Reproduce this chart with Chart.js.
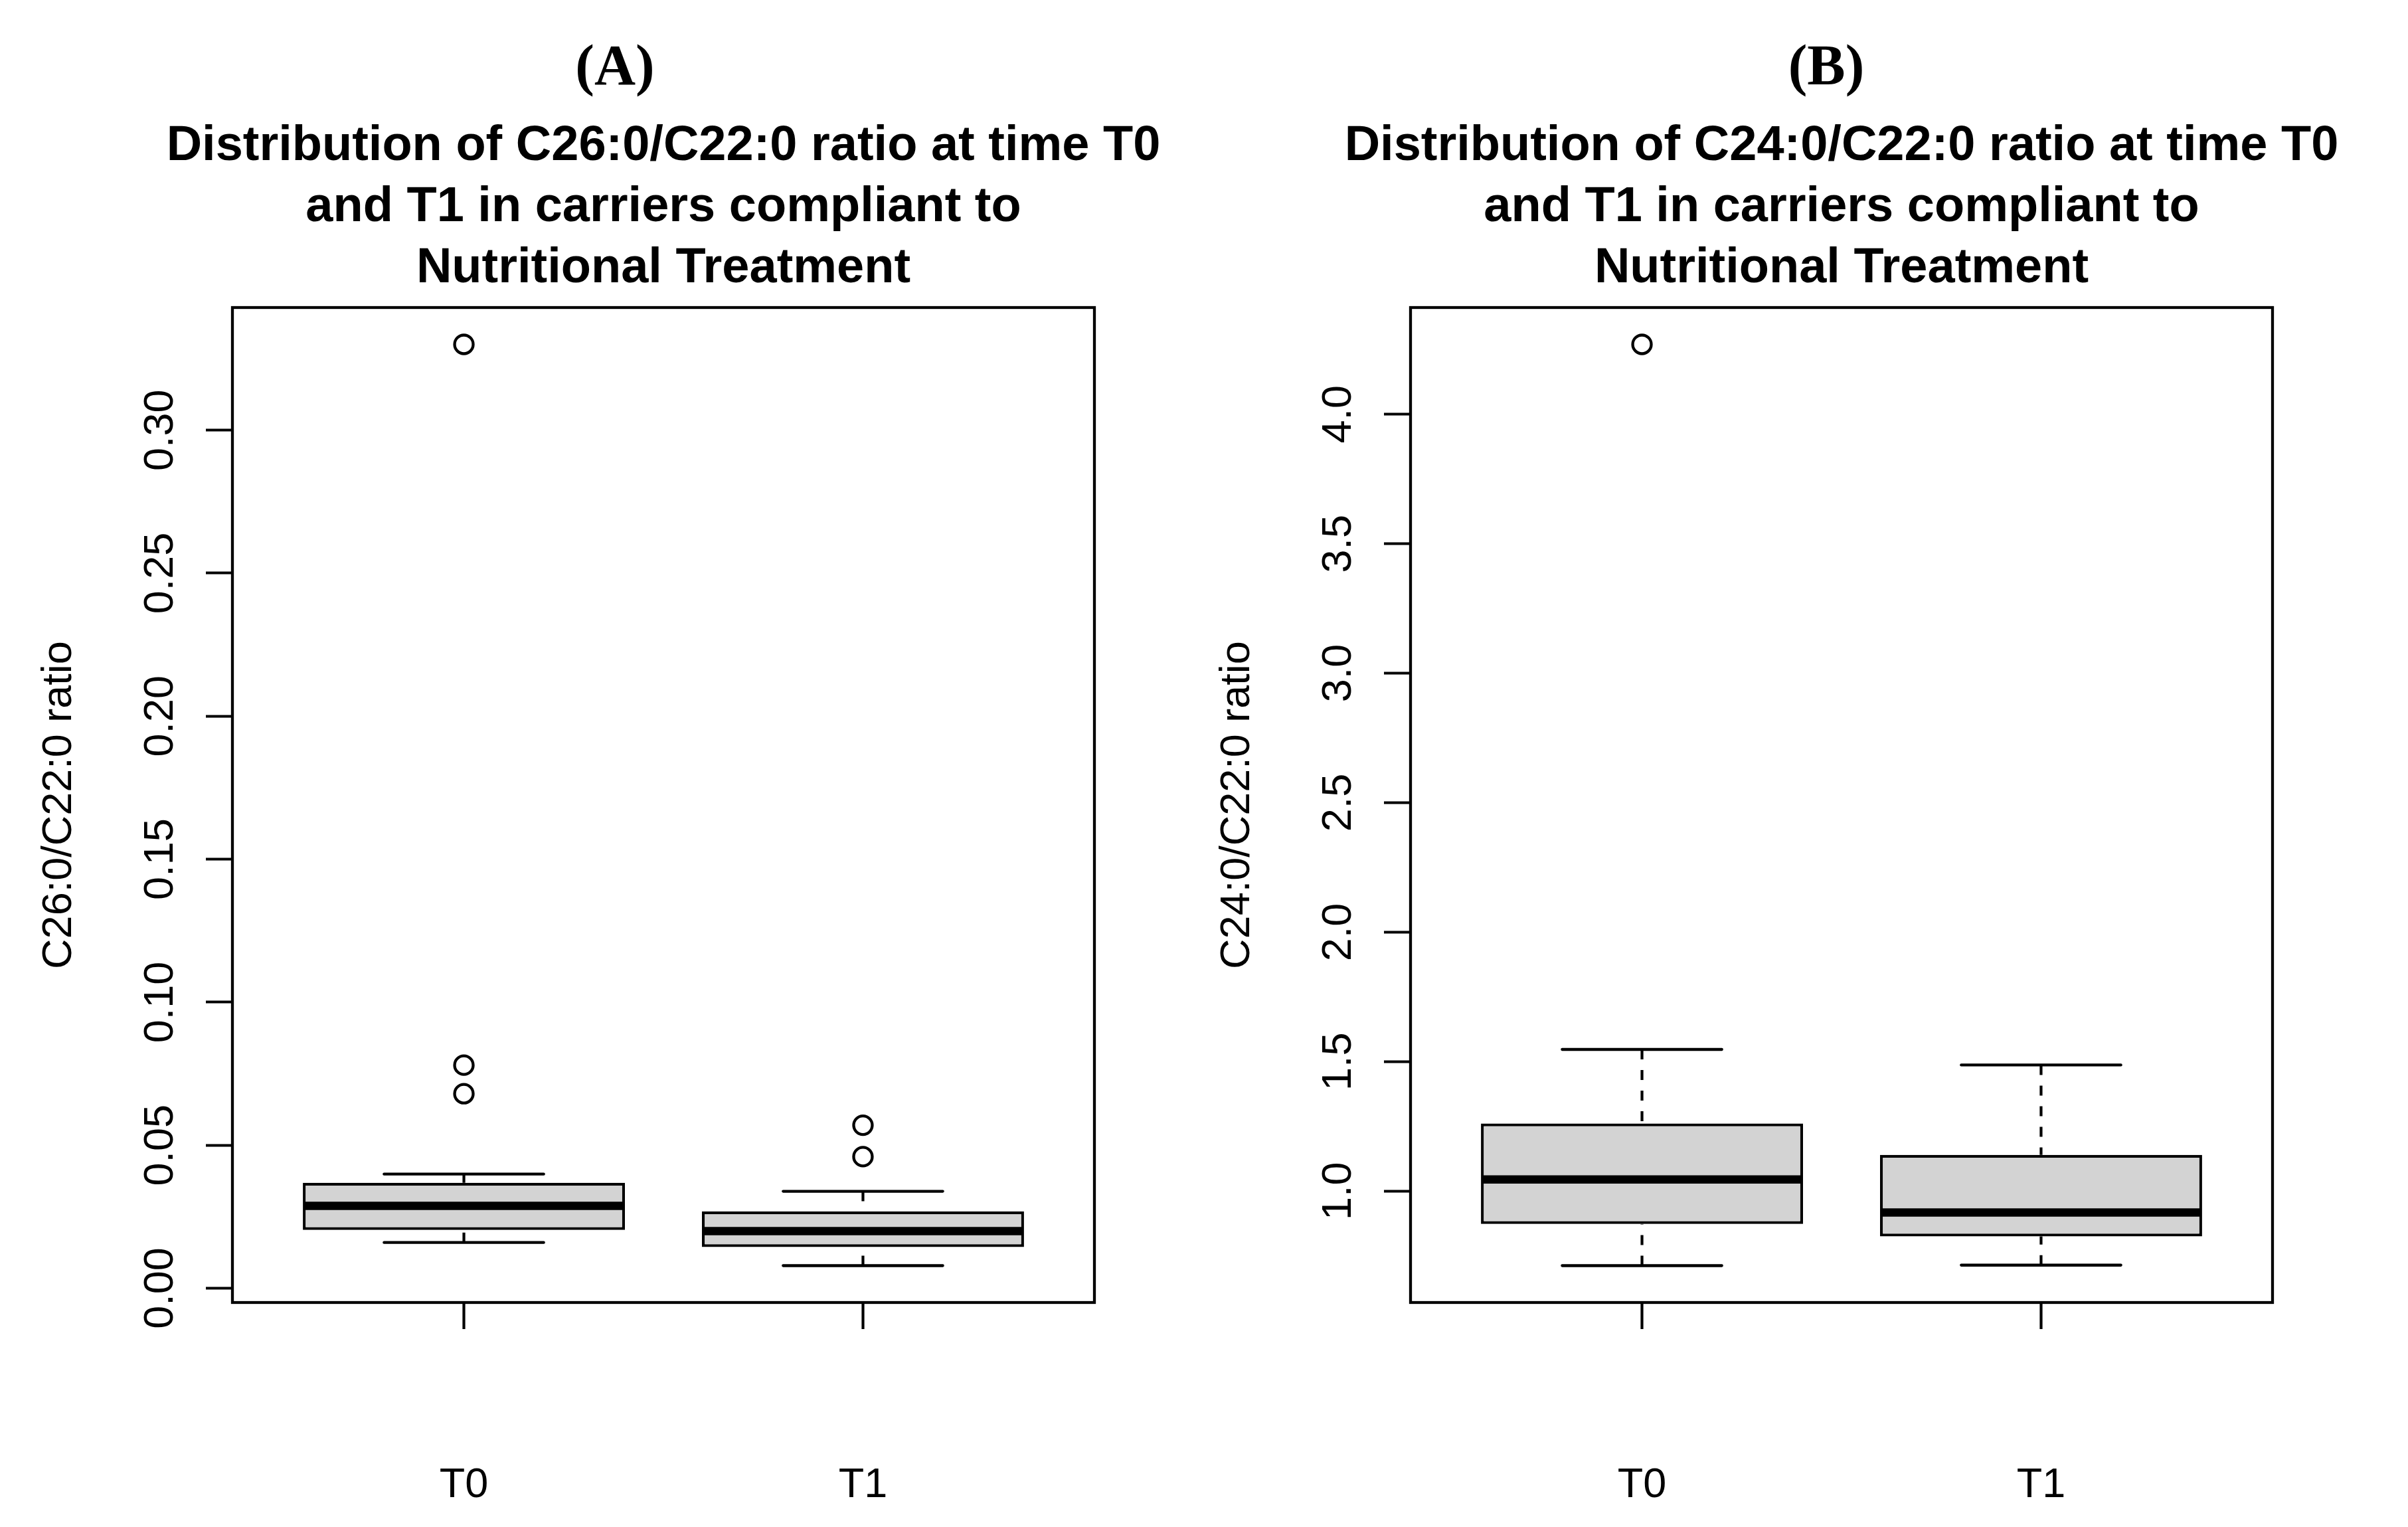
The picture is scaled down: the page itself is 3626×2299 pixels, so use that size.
<!DOCTYPE html>
<html>
<head>
<meta charset="utf-8">
<script src="https://cdn.jsdelivr.net/npm/chart.js@4.4.1/dist/chart.umd.min.js"></script>
<style>
html, body { margin: 0; padding: 0; background: #ffffff; }
#wrap { position: relative; width: 3626px; height: 2299px; overflow: hidden; background: #ffffff; }
canvas { position: absolute; top: 0; }
</style>
</head>
<body>
<div id="wrap">
  <canvas id="panelA" width="1813" height="2299" style="left:0px"></canvas>
  <canvas id="panelB" width="1813" height="2299" style="left:1813px"></canvas>
</div>
<script>
// ---------------- DATA ----------------
const groups = ['T0', 'T1'];

// Panel A : C26:0/C22:0 ratio  (five-number summaries)
const a_lowWhisker  = [0.0160, 0.0079];
const a_q1          = [0.0204, 0.0144];
const a_median      = [0.0288, 0.0200];
const a_q3          = [0.0369, 0.0269];
const a_highWhisker = [0.0399, 0.0339];
const a_outliersT0  = [0.330, 0.078, 0.068];
const a_outliersT1  = [0.057, 0.046];
const a_ticks       = [0.00, 0.05, 0.10, 0.15, 0.20, 0.25, 0.30];
const a_tickLabels  = ['0.00', '0.05', '0.10', '0.15', '0.20', '0.25', '0.30'];
const a_title       = ['Distribution of C26:0/C22:0 ratio at time T0', 'and T1 in carriers compliant to', 'Nutritional Treatment'];
const a_yLabel      = 'C26:0/C22:0 ratio';
const a_tag         = '(A)';

// Panel B : C24:0/C22:0 ratio
const b_lowWhisker  = [0.712, 0.714];
const b_q1          = [0.873, 0.825];
const b_median      = [1.045, 0.917];
const b_q3          = [1.261, 1.140];
const b_highWhisker = [1.547, 1.487];
const b_outliersT0  = [4.27];
const b_outliersT1  = [];
const b_ticks       = [1.0, 1.5, 2.0, 2.5, 3.0, 3.5, 4.0];
const b_tickLabels  = ['1.0', '1.5', '2.0', '2.5', '3.0', '3.5', '4.0'];
const b_title       = ['Distribution of C24:0/C22:0 ratio at time T0', 'and T1 in carriers compliant to', 'Nutritional Treatment'];
const b_yLabel      = 'C24:0/C22:0 ratio';
const b_tag         = '(B)';

// ---------------- DRAWING ----------------
const SANS = '"Liberation Sans", Arial, Helvetica, sans-serif';
const SERIF = '"Liberation Serif", "Times New Roman", serif';
const BOXW = 0.8, CAPW = 0.4;

function rRange(values) {
  const lo = Math.min(...values), hi = Math.max(...values);
  const e = (hi - lo) * 0.04;
  return [lo - e, hi + e];
}

function segs(pairs) {
  const out = [];
  pairs.forEach((p, k) => {
    if (k) out.push({ x: p[0].x, y: null });
    out.push(p[0], p[1]);
  });
  return out;
}

function makeTextPlugin(d) {
  return {
    id: 'rtext' + d.tag,
    afterDraw(chart) {
      const ctx = chart.ctx, ca = chart.chartArea, ys = chart.scales.y;
      ctx.save();
      ctx.strokeStyle = '#000';
      ctx.lineWidth = 4.3;
      ctx.strokeRect(ca.left, ca.top, ca.right - ca.left, ca.bottom - ca.top);
      ctx.fillStyle = '#000';
      ctx.textAlign = 'center';
      ctx.textBaseline = 'alphabetic';
      ctx.font = '63px ' + SANS;
      d.ticks.forEach((v, k) => {
        const y = ys.getPixelForValue(v);
        ctx.save();
        ctx.translate(ca.left - 90, y);
        ctx.rotate(-Math.PI / 2);
        ctx.fillText(d.tickLabels[k], 0, 0);
        ctx.restore();
      });
      ctx.save();
      ctx.translate(ca.left - 243, (ca.top + ca.bottom) / 2);
      ctx.rotate(-Math.PI / 2);
      ctx.fillText(d.yLabel, 0, 0);
      ctx.restore();
      ctx.font = 'bold 74px ' + SANS;
      const cx = (ca.left + ca.right) / 2;
      d.title.forEach((t, k) => ctx.fillText(t, cx, 241 + 92 * k));
      ctx.font = 'bold 86px ' + SERIF;
      ctx.fillText(d.tag, d.tagX, 127);
      ctx.restore();
    }
  };
}

function buildPanel(canvasId, d) {
  const pos = groups.map((g, i) => i + 1);
  const boxData = pos.map((x, i) => ({ x: x, y: [d.q1[i], d.q3[i]] }));
  const medData = segs(pos.map((x, i) => [{ x: x - BOXW / 2, y: d.med[i] }, { x: x + BOXW / 2, y: d.med[i] }]));
  const whiskData = segs(pos.flatMap((x, i) => [
    [{ x: x, y: d.hi[i] }, { x: x, y: d.q3[i] }],
    [{ x: x, y: d.lo[i] }, { x: x, y: d.q1[i] }]
  ]));
  const capData = segs(pos.flatMap((x, i) => [
    [{ x: x - CAPW / 2, y: d.hi[i] }, { x: x + CAPW / 2, y: d.hi[i] }],
    [{ x: x - CAPW / 2, y: d.lo[i] }, { x: x + CAPW / 2, y: d.lo[i] }]
  ]));
  const outData = pos.flatMap((x, i) => d.out[i].map(v => ({ x: x, y: v })));
  const allVals = [].concat(d.lo, d.hi, ...d.out);
  const [ymin, ymax] = rRange(allVals);
  const xmin = 0.5 - 0.04 * 2, xmax = groups.length + 0.5 + 0.04 * 2;

  const Wy = 200, Hx = 2299 - 1961;
  new Chart(document.getElementById(canvasId), {
    type: 'bar',
    data: {
      datasets: [
        { type: 'line', label: 'outliers', data: outData, showLine: false, order: 0,
          pointStyle: 'circle', pointRadius: 14, pointHoverRadius: 14, pointBorderWidth: 4.3,
          pointBackgroundColor: 'rgba(0,0,0,0)', pointBorderColor: '#000' },
        { type: 'line', label: 'median', data: medData, order: 1, borderColor: '#000',
          borderWidth: 12.5, borderCapStyle: 'butt', pointRadius: 0, spanGaps: false, fill: false },
        { type: 'line', label: 'caps', data: capData, order: 2, borderColor: '#000',
          borderWidth: 4.3, borderCapStyle: 'round', pointRadius: 0, spanGaps: false, fill: false },
        { type: 'bar', label: 'box', data: boxData, order: 3, backgroundColor: '#d3d3d3',
          borderColor: '#000', borderWidth: 4.3, borderSkipped: false, grouped: false,
          barPercentage: 0.807, categoryPercentage: 1.0 },
        { type: 'line', label: 'whiskers', data: whiskData, order: 4, borderColor: '#000',
          borderWidth: 4.2, borderDash: [15, 16], borderCapStyle: 'butt', pointRadius: 0, spanGaps: false, fill: false }
      ]
    },
    options: {
      responsive: false,
      animation: false,
      devicePixelRatio: 1,
      events: [],
      layout: { padding: { left: d.plotLeft - Wy, right: 1813 - d.plotRight, top: 463, bottom: 0 } },
      plugins: { legend: { display: false }, tooltip: { enabled: false }, title: { display: false } },
      scales: {
        x: {
          type: 'linear', min: xmin, max: xmax, offset: false,
          afterBuildTicks: (s) => { s.ticks = pos.map(v => ({ value: v })); },
          afterFit: (s) => { s.height = Hx; },
          border: { display: false },
          grid: { display: true, drawOnChartArea: false, drawTicks: true, tickLength: 40, tickWidth: 4.2, tickColor: '#000', offset: false },
          ticks: { color: '#000', font: { family: SANS, size: 63 }, padding: 198, maxRotation: 0, minRotation: 0,
                   autoSkip: false, callback: (v, idx) => groups[idx] }
        },
        y: {
          type: 'linear', min: ymin, max: ymax,
          afterBuildTicks: (s) => { s.ticks = d.ticks.map(v => ({ value: v })); },
          afterFit: (s) => { s.width = Wy; },
          border: { display: false },
          grid: { display: true, drawOnChartArea: false, drawTicks: true, tickLength: 40, tickWidth: 4.2, tickColor: '#000' },
          ticks: { display: false }
        }
      }
    },
    plugins: [makeTextPlugin(d)]
  });
}

buildPanel('panelA', {
  lo: a_lowWhisker, q1: a_q1, med: a_median, q3: a_q3, hi: a_highWhisker,
  out: [a_outliersT0, a_outliersT1], ticks: a_ticks, tickLabels: a_tickLabels,
  title: a_title, yLabel: a_yLabel, tag: a_tag, tagX: 926, plotLeft: 350, plotRight: 1648
});
buildPanel('panelB', {
  lo: b_lowWhisker, q1: b_q1, med: b_median, q3: b_q3, hi: b_highWhisker,
  out: [b_outliersT0, b_outliersT1], ticks: b_ticks, tickLabels: b_tickLabels,
  title: b_title, yLabel: b_yLabel, tag: b_tag, tagX: 937, plotLeft: 311, plotRight: 1609
});
</script>
</body>
</html>
